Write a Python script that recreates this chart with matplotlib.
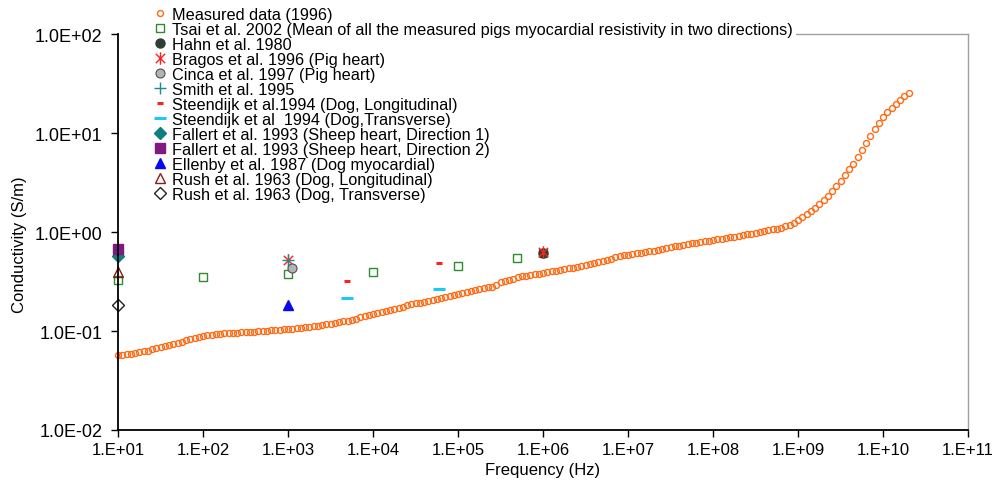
"""
Myocardial conductivity vs frequency: measured data compared with literature values.
"""

import matplotlib
matplotlib.use("Agg")
import matplotlib.pyplot as plt
import numpy as np
from matplotlib.path import Path
from matplotlib.ticker import FixedLocator, FuncFormatter, NullLocator

plt.rcParams["font.family"] = ["Liberation Sans", "DejaVu Sans"]

# %%
# Data
# ----
# Measured sweep: 20 points per decade from 10 Hz to 2E+10 Hz (sweep grid),
# conductivity values.
measured_freq = np.logspace(1.0, 10.3, 187)
measured_cond = [
    # 1E+01 .. 1E+02
    0.0569, 0.0575, 0.0582, 0.0590, 0.0600, 0.0610, 0.0621, 0.0635, 0.0652, 0.0668,
    0.0686, 0.0703, 0.0721, 0.0740, 0.0760, 0.0782, 0.0804, 0.0826, 0.0849, 0.0871,
    # 1E+02 .. 1E+03
    0.0889, 0.0904, 0.0916, 0.0927, 0.0935, 0.0944, 0.0951, 0.0957, 0.0964, 0.0970,
    0.0975, 0.0982, 0.0986, 0.0991, 0.0998, 0.1005, 0.1012, 0.1021, 0.1030, 0.1040,
    # 1E+03 .. 1E+04
    0.1050, 0.1059, 0.1069, 0.1079, 0.1091, 0.1102, 0.1114, 0.1130, 0.1148, 0.1167,
    0.1186, 0.1205, 0.1227, 0.1250, 0.1276, 0.1306, 0.1337, 0.1371, 0.1406, 0.1439,
    # 1E+04 .. 1E+05
    0.1476, 0.1514, 0.1556, 0.1596, 0.1637, 0.1679, 0.1722, 0.1766, 0.1811, 0.1858,
    0.1901, 0.1941, 0.1982, 0.2023, 0.2065, 0.2109, 0.2148, 0.2188, 0.2239, 0.2291,
    # 1E+05 .. 1E+06
    0.2344, 0.2404, 0.2466, 0.2523, 0.2582, 0.2642, 0.2698, 0.2754, 0.2805, 0.2884,
    0.3112, 0.3199, 0.3281, 0.3388, 0.3499, 0.3556, 0.3614, 0.3673, 0.3733, 0.3802,
    # 1E+06 .. 1E+07
    0.3864, 0.3936, 0.3999, 0.4074, 0.4140, 0.4217, 0.4295, 0.4375, 0.4457, 0.4529,
    0.4613, 0.4721, 0.4842, 0.4966, 0.5105, 0.5248, 0.5395, 0.5534, 0.5689, 0.5808,
    # 1E+07 .. 1E+08
    0.5916, 0.5998, 0.6081, 0.6180, 0.6281, 0.6368, 0.6471, 0.6607, 0.6745, 0.6887,
    0.7015, 0.7161, 0.7295, 0.7447, 0.7586, 0.7709, 0.7816, 0.7943, 0.8054, 0.8185,
    # 1E+08 .. 1E+09
    0.8299, 0.8414, 0.8551, 0.8690, 0.8831, 0.8995, 0.9162, 0.9311, 0.9484, 0.9660,
    0.9840, 1.002, 1.021, 1.040, 1.062, 1.084, 1.107, 1.138, 1.180, 1.239,
    # 1E+09 .. 1E+10
    1.318, 1.406, 1.507, 1.622, 1.750, 1.905, 2.089, 2.312, 2.570, 2.897,
    3.296, 3.758, 4.295, 4.898, 5.754, 6.761, 7.943, 9.333, 10.96, 12.74,
    # 1E+10 .. 2E+10
    14.45, 16.22, 17.78, 19.50, 21.38, 23.44, 25.41,
]

tsai_freq = [1e1, 1e2, 1e3, 1e4, 1e5, 5e5, 1e6]
tsai_cond = [0.327, 0.348, 0.377, 0.392, 0.450, 0.546, 0.620]

hahn_freq = [1e6]
hahn_cond = [0.620]

bragos_freq = [1e3, 1e6]
bragos_cond = [0.525, 0.630]

cinca_freq = [1.1e3]
cinca_cond = [0.430]

smith_freq = [1e3]
smith_cond = [0.520]

steendijk_long_freq = [5e3, 6e4]
steendijk_long_cond = [0.322, 0.487]

steendijk_trans_freq = [5e3, 6e4]
steendijk_trans_cond = [0.215, 0.264]

fallert1_freq = [1e1]
fallert1_cond = [0.575]

fallert2_freq = [1e1]
fallert2_cond = [0.673]

ellenby_freq = [1e3]
ellenby_cond = [0.183]

rush_long_freq = [1e1]
rush_long_cond = [0.397]

rush_trans_freq = [1e1]
rush_trans_cond = [0.183]

x_ticks = [1e1, 1e2, 1e3, 1e4, 1e5, 1e6, 1e7, 1e8, 1e9, 1e10, 1e11]
y_ticks = [1e-2, 1e-1, 1e0, 1e1, 1e2]

# Excel-style asterisk: vertical bar plus an X
asterisk = Path(
    [(0, -1), (0, 1), (-0.75, -0.75), (0.75, 0.75), (-0.75, 0.75), (0.75, -0.75)],
    [Path.MOVETO, Path.LINETO, Path.MOVETO, Path.LINETO, Path.MOVETO, Path.LINETO],
)

# %%
# Plot
# ----
fig = plt.figure(figsize=(9.96, 4.81), dpi=100)
ax = fig.add_axes([0.1185, 0.104, 0.8534, 0.823])

common = dict(ls="none", clip_on=False)
ax.plot(measured_freq, measured_cond, "o", ms=4.3, mfc="none", mec="#FF6A13", mew=1.0,
        label="Measured data (1996)", **common)
ax.plot(tsai_freq, tsai_cond, "s", ms=6, mfc="none", mec="#2E8B2E", mew=1.0,
        label="Tsai et al. 2002 (Mean of all the measured pigs myocardial resistivity in two directions)",
        **common)
ax.plot(hahn_freq, hahn_cond, "o", ms=6.5, mfc="#2F3F35", mec="#2F3F35",
        label="Hahn et al. 1980", **common)
ax.plot(bragos_freq, bragos_cond, marker=asterisk, ms=9, mfc="none", mec="#FF2020", mew=1.0,
        label="Bragos et al. 1996 (Pig heart)", **common)
ax.plot(cinca_freq, cinca_cond, "o", ms=6.5, mfc="#B4B4B4", mec="#505050", mew=0.8,
        label="Cinca et al. 1997 (Pig heart)", **common)
ax.plot(smith_freq, smith_cond, "+", ms=9, mec="#1A8C8C", mew=1.0,
        label="Smith et al. 1995", **common)
ax.plot(steendijk_long_freq, steendijk_long_cond, "_", ms=5, mec="#FF2020", mew=2.2,
        label="Steendijk et al.1994 (Dog, Longitudinal)", **common)
ax.plot(steendijk_trans_freq, steendijk_trans_cond, "_", ms=9, mec="#1EC8F0", mew=2.2,
        label="Steendijk et al  1994 (Dog,Transverse)", **common)
ax.plot(fallert1_freq, fallert1_cond, "D", ms=6.5, mfc="#0E7F7F", mec="#0E7F7F",
        label="Fallert et al. 1993 (Sheep heart, Direction 1)", **common)
ax.plot(fallert2_freq, fallert2_cond, "s", ms=6.5, mfc="#7F1A7F", mec="#7F1A7F",
        label="Fallert et al. 1993 (Sheep heart, Direction 2)", **common)
ax.plot(ellenby_freq, ellenby_cond, "^", ms=7.5, mfc="#0A0AF0", mec="#0A0AF0",
        label="Ellenby et al. 1987 (Dog myocardial)", **common)
ax.plot(rush_long_freq, rush_long_cond, "^", ms=7.5, mfc="none", mec="#8B1A1A", mew=1.0,
        label="Rush et al. 1963 (Dog, Longitudinal)", **common)
ax.plot(rush_trans_freq, rush_trans_cond, "D", ms=6.5, mfc="none", mec="#222222", mew=1.0,
        label="Rush et al. 1963 (Dog, Transverse)", **common)

ax.set_xscale("log")
ax.set_yscale("log")
ax.set_xlim(x_ticks[0], x_ticks[-1])
ax.set_ylim(y_ticks[0], y_ticks[-1])

ax.xaxis.set_major_locator(FixedLocator(x_ticks))
ax.yaxis.set_major_locator(FixedLocator(y_ticks))
ax.xaxis.set_minor_locator(NullLocator())
ax.yaxis.set_minor_locator(NullLocator())
ax.xaxis.set_major_formatter(FuncFormatter(lambda v, _: f"{v:#.0E}"))
ax.yaxis.set_major_formatter(FuncFormatter(lambda v, _: f"{v:.1E}"))
ax.tick_params(axis="both", direction="out", length=5, width=1.0, labelsize=12, pad=4)
ax.tick_params(axis="y", labelsize=13, pad=6)

for side in ("left", "bottom"):
    ax.spines[side].set_color("black")
    ax.spines[side].set_linewidth(1.3)
for side in ("top", "right"):
    ax.spines[side].set_color("#A0A0A0")
    ax.spines[side].set_linewidth(1.0)
# the left part of the top border is hidden behind the legend in the original
ax.spines["top"].set_bounds(1e8, 1e11)

ax.set_xlabel("Frequency (Hz)", fontsize=12, labelpad=3)
ax.set_ylabel("Conductivity (S/m)", fontsize=12)
ax.yaxis.set_label_coords(-0.107, 0.47)

ax.legend(loc="upper left", bbox_to_anchor=(0.1493, 0.991), bbox_transform=fig.transFigure,
          fontsize=11.7, labelspacing=0.0, handlelength=1.0, handletextpad=0.25,
          borderpad=0.2, borderaxespad=0.0, frameon=True, facecolor="white",
          edgecolor="none", framealpha=1.0, fancybox=False, numpoints=1)

fig.savefig("out.png", dpi=100)
